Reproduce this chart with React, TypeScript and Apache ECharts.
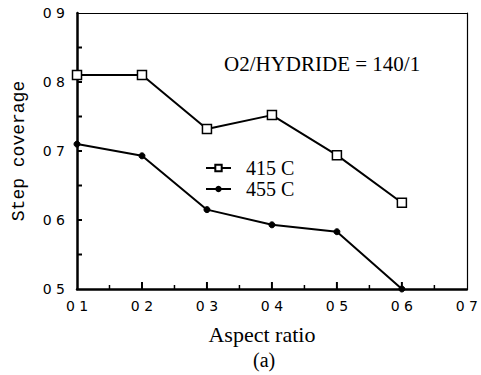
import React, { useEffect, useRef } from "react";
import * as echarts from "echarts";

const aspectRatios = [0.1, 0.2, 0.3, 0.4, 0.5, 0.6];
const cov415 = [0.81, 0.81, 0.732, 0.752, 0.694, 0.625];
const cov455 = [0.71, 0.693, 0.615, 0.593, 0.583, 0.5];
const xTickLabels = ["0 1", "0 2", "0 3", "0 4", "0 5", "0 6", "0 7"];
const yTickLabels = ["0 5", "0 6", "0 7", "0 8", "0 9"];
const seriesNames = ["415 C", "455 C"];
const xMajorTicks = [0.2, 0.3, 0.4, 0.5, 0.6];
const xMinorTicks = [0.15, 0.25, 0.35, 0.45, 0.55, 0.65];
const yTicks = [0.55, 0.6, 0.65, 0.7, 0.75, 0.8, 0.85];

const serif = "Liberation Serif";
const mono = "Liberation Mono";
const sans = "DejaVu Sans";

const X_MIN = 0.1;
const Y_MIN = 0.5;

export default function App() {
  const ref = useRef<HTMLDivElement>(null);
  useEffect(() => {
    if (!ref.current) return;
    const chart = echarts.init(ref.current, null, { renderer: "svg" });
    const thick = { show: true, lineStyle: { color: "#000", width: 2.5 } };
    const thin = { show: true, lineStyle: { color: "#000", width: 1.2 } };
    const tickBase = {
      type: "scatter",
      silent: true,
      clip: false,
      itemStyle: { color: "#000", opacity: 1 },
      z: 4,
    };
    chart.setOption({
      animation: false,
      backgroundColor: "#fff",
      grid: { left: 77, right: 14, top: 13, bottom: 86 },
      legend: {
        orient: "vertical",
        left: 200,
        top: 153,
        itemGap: 1,
        itemWidth: 25,
        itemHeight: 8,
        textStyle: { fontFamily: serif, fontSize: 20, color: "#000", padding: [0, 0, 0, 10] },
        data: seriesNames,
      },
      xAxis: [
        {
          type: "value",
          min: X_MIN,
          max: 0.7,
          interval: 0.1,
          name: "Aspect ratio",
          nameLocation: "middle",
          nameGap: 34,
          nameTextStyle: { fontFamily: serif, fontSize: 22, color: "#000", padding: [0, 20, 0, 0] },
          axisLine: thick,
          axisTick: { show: false },
          splitLine: { show: false },
          axisLabel: {
            margin: 10,
            fontFamily: sans,
            fontSize: 14,
            color: "#000",
            formatter: (v: number) => xTickLabels[Math.round(v * 10) - 1] ?? "",
          },
        },
        {
          type: "value",
          position: "top",
          min: X_MIN,
          max: 0.7,
          interval: 0.1,
          axisLine: thin,
          axisTick: { show: false },
          axisLabel: { show: false },
          splitLine: { show: false },
        },
      ],
      yAxis: [
        {
          type: "value",
          min: Y_MIN,
          max: 0.9,
          interval: 0.1,
          name: "Step coverage",
          nameLocation: "middle",
          nameGap: 49,
          nameTextStyle: { fontFamily: mono, fontSize: 18, color: "#000" },
          axisLine: thick,
          axisTick: { show: false },
          splitLine: { show: false },
          axisLabel: {
            margin: 12,
            fontFamily: sans,
            fontSize: 14,
            color: "#000",
            formatter: (v: number) => yTickLabels[Math.round(v * 10) - 5] ?? "",
          },
        },
        {
          type: "value",
          position: "right",
          min: Y_MIN,
          max: 0.9,
          interval: 0.1,
          axisLine: thin,
          axisTick: { show: false },
          axisLabel: { show: false },
          splitLine: { show: false },
        },
      ],
      graphic: [
        {
          type: "text",
          left: 224,
          top: 53,
          style: { text: "O2/HYDRIDE = 140/1", fontFamily: serif, fontSize: 21, fill: "#000" },
        },
        {
          type: "text",
          left: 253,
          top: 350,
          style: { text: "(a)", fontFamily: serif, fontSize: 20, fill: "#000" },
        },
      ],
      series: [
        {
          name: seriesNames[0],
          type: "line",
          data: aspectRatios.map((x, i) => [x, cov415[i]]),
          symbol: "rect",
          symbolSize: 9,
          lineStyle: { color: "#000", width: 2 },
          itemStyle: { color: "#fff", borderColor: "#000", borderWidth: 1.5 },
          z: 3,
        },
        {
          name: seriesNames[1],
          type: "line",
          data: aspectRatios.map((x, i) => [x, cov455[i]]),
          symbol: "circle",
          symbolSize: 6,
          lineStyle: { color: "#000", width: 2 },
          itemStyle: { color: "#000", borderColor: "#000" },
          z: 3,
        },
        {
          ...tickBase,
          name: "xMajor",
          data: xMajorTicks.map((v) => [v, Y_MIN]),
          symbol: "rect",
          symbolSize: [2, 7],
          symbolOffset: [0, -3.5],
        },
        {
          ...tickBase,
          name: "xMinor",
          data: xMinorTicks.map((v) => [v, Y_MIN]),
          symbol: "rect",
          symbolSize: [1.5, 4],
          symbolOffset: [0, -2],
        },
        {
          ...tickBase,
          name: "yTicks",
          data: yTicks.map((v) => [X_MIN, v]),
          symbol: "rect",
          symbolSize: [5, 2],
          symbolOffset: [2.5, 0],
        },
      ],
    });
    return () => chart.dispose();
  }, []);
  return <div ref={ref} style={{ width: 481, height: 375, position: "absolute", left: 0, top: 0 }} />;
}
